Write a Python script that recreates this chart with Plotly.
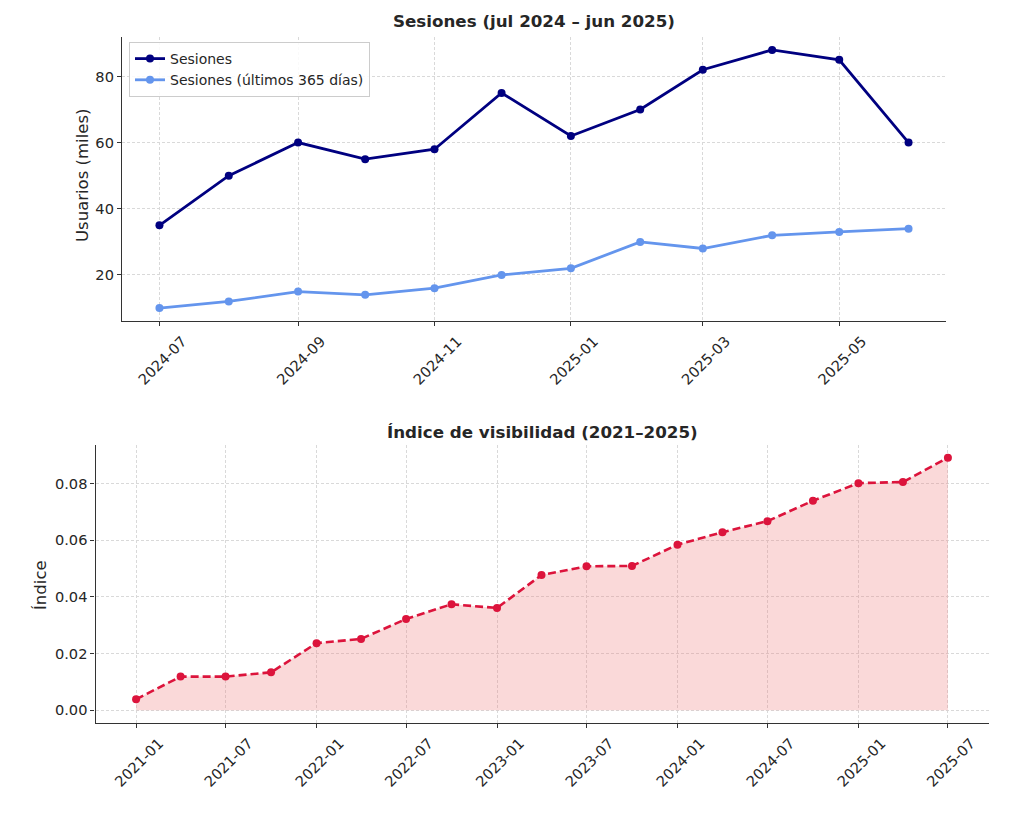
import pandas as pd
import plotly.graph_objects as go

# ---- Data ----
meses = ["2024-07-01", "2024-08-01", "2024-09-01", "2024-10-01", "2024-11-01", "2024-12-01",
         "2025-01-01", "2025-02-01", "2025-03-01", "2025-04-01", "2025-05-01", "2025-06-01"]
sesiones = [35, 50, 60, 55, 58, 75, 62, 70, 82, 88, 85, 60]
sesiones_365 = [10, 12, 15, 14, 16, 20, 22, 30, 28, 32, 33, 34]

trimestres = ["2021-01-01", "2021-04-01", "2021-07-01", "2021-10-01",
              "2022-01-01", "2022-04-01", "2022-07-01", "2022-10-01",
              "2023-01-01", "2023-04-01", "2023-07-01", "2023-10-01",
              "2024-01-01", "2024-04-01", "2024-07-01", "2024-10-01",
              "2025-01-01", "2025-04-01", "2025-07-01"]
indice = [0.0039, 0.0119, 0.0119, 0.0134, 0.0237, 0.0252, 0.0322, 0.0374, 0.0361,
          0.0477, 0.0508, 0.0509, 0.0584, 0.0628, 0.0667, 0.0739, 0.0801, 0.0805, 0.0891]

# page body has an 8px margin, so the figure is 1008x799 and offsets are shifted by 8px
OFF = 8
W, H = 1024 - 2 * OFF, 815 - 2 * OFF
FONT = "DejaVu Sans"
TXT = "#262626"


def px_x(x):
    return (x - OFF) / W


def px_y(y):
    return 1 - (y - OFF) / H


def pad_range(vals, frac=0.05):
    lo, hi = min(vals), max(vals)
    d = (hi - lo) * frac
    return [lo - d, hi + d]


def pad_dates(dates, frac=0.05):
    d = pd.to_datetime(dates)
    lo, hi = d.min(), d.max()
    m = (hi - lo) * frac
    return [(lo - m).strftime("%Y-%m-%d %H:%M"), (hi + m).strftime("%Y-%m-%d %H:%M")]


fig = go.Figure()

fig.add_trace(go.Scatter(x=meses, y=sesiones, mode="lines+markers", name="Sesiones",
                         line=dict(color="#000080", width=2.8),
                         marker=dict(color="#000080", size=8),
                         xaxis="x", yaxis="y"))
fig.add_trace(go.Scatter(x=meses, y=sesiones_365, mode="lines+markers",
                         name="Sesiones (últimos 365 días)",
                         line=dict(color="#6495ED", width=2.8),
                         marker=dict(color="#6495ED", size=8),
                         xaxis="x", yaxis="y"))

fig.add_trace(go.Scatter(x=trimestres, y=indice, mode="lines+markers", name="Índice",
                         line=dict(color="#DC143C", width=2.6, dash="8px,4px"),
                         marker=dict(color="#DC143C", size=8),
                         fill="tozeroy", fillcolor="rgba(240,128,128,0.3)",
                         showlegend=False, xaxis="x2", yaxis="y2"))

axis_common = dict(
    showline=True, linecolor="#333333", linewidth=1.3,
    ticks="outside", ticklen=4, tickcolor="#333333", tickwidth=1,
    showgrid=True, gridcolor="#d9d9d9", gridwidth=0.8, griddash="3px,2px",
    zeroline=False, tickfont=dict(family=FONT, size=14.6, color=TXT),
    mirror=False, automargin=False,
)
xtick_extra = dict(tickangle=-45, ticklabelshift=23, ticklabelstandoff=1)

y1 = pad_range(sesiones + sesiones_365)
y2 = pad_range([0] + indice)

fig.update_layout(
    width=W, height=H,
    margin=dict(l=0, r=0, t=0, b=0),
    paper_bgcolor="white", plot_bgcolor="white",
    font=dict(family=FONT, color=TXT),
    xaxis=dict(axis_common, **xtick_extra, domain=[px_x(122), px_x(946)], type="date",
               range=pad_dates(meses), tick0="2024-07-01", dtick="M2",
               tickformat="%Y-%m", anchor="y"),
    yaxis=dict(axis_common, domain=[px_y(321), px_y(37)],
               range=y1, dtick=20, anchor="x"),
    xaxis2=dict(axis_common, **xtick_extra, domain=[px_x(95.5), px_x(988.5)], type="date",
                range=pad_dates(trimestres), tick0="2021-01-01", dtick="M6",
                tickformat="%Y-%m", anchor="y2"),
    yaxis2=dict(axis_common, domain=[px_y(723), px_y(445)],
                range=y2, dtick=0.02, tickformat=".2f", anchor="x2"),
    legend=dict(x=px_x(129), y=px_y(42), xanchor="left", yanchor="top",
                bgcolor="rgba(255,255,255,0.85)", bordercolor="#cccccc", borderwidth=1,
                font=dict(family=FONT, size=14, color=TXT), tracegroupgap=2),
    showlegend=True,
    annotations=[
        dict(text="<b>Sesiones (jul 2024 – jun 2025)</b>", x=px_x(534), y=px_y(21),
             xref="paper", yref="paper", showarrow=False, xanchor="center", yanchor="middle",
             font=dict(family=FONT, size=16.7, color=TXT)),
        dict(text="<b>Índice de visibilidad (2021–2025)</b>", x=px_x(542), y=px_y(432),
             xref="paper", yref="paper", showarrow=False, xanchor="center", yanchor="middle",
             font=dict(family=FONT, size=16.7, color=TXT)),
        dict(text="Usuarios (miles)", x=px_x(82), y=px_y(176), textangle=-90,
             xref="paper", yref="paper", showarrow=False, xanchor="center", yanchor="middle",
             font=dict(family=FONT, size=16.5, color=TXT)),
        dict(text="Índice", x=px_x(40), y=px_y(585), textangle=-90,
             xref="paper", yref="paper", showarrow=False, xanchor="center", yanchor="middle",
             font=dict(family=FONT, size=16.5, color=TXT)),
    ],
)

fig.write_html("out.html")
